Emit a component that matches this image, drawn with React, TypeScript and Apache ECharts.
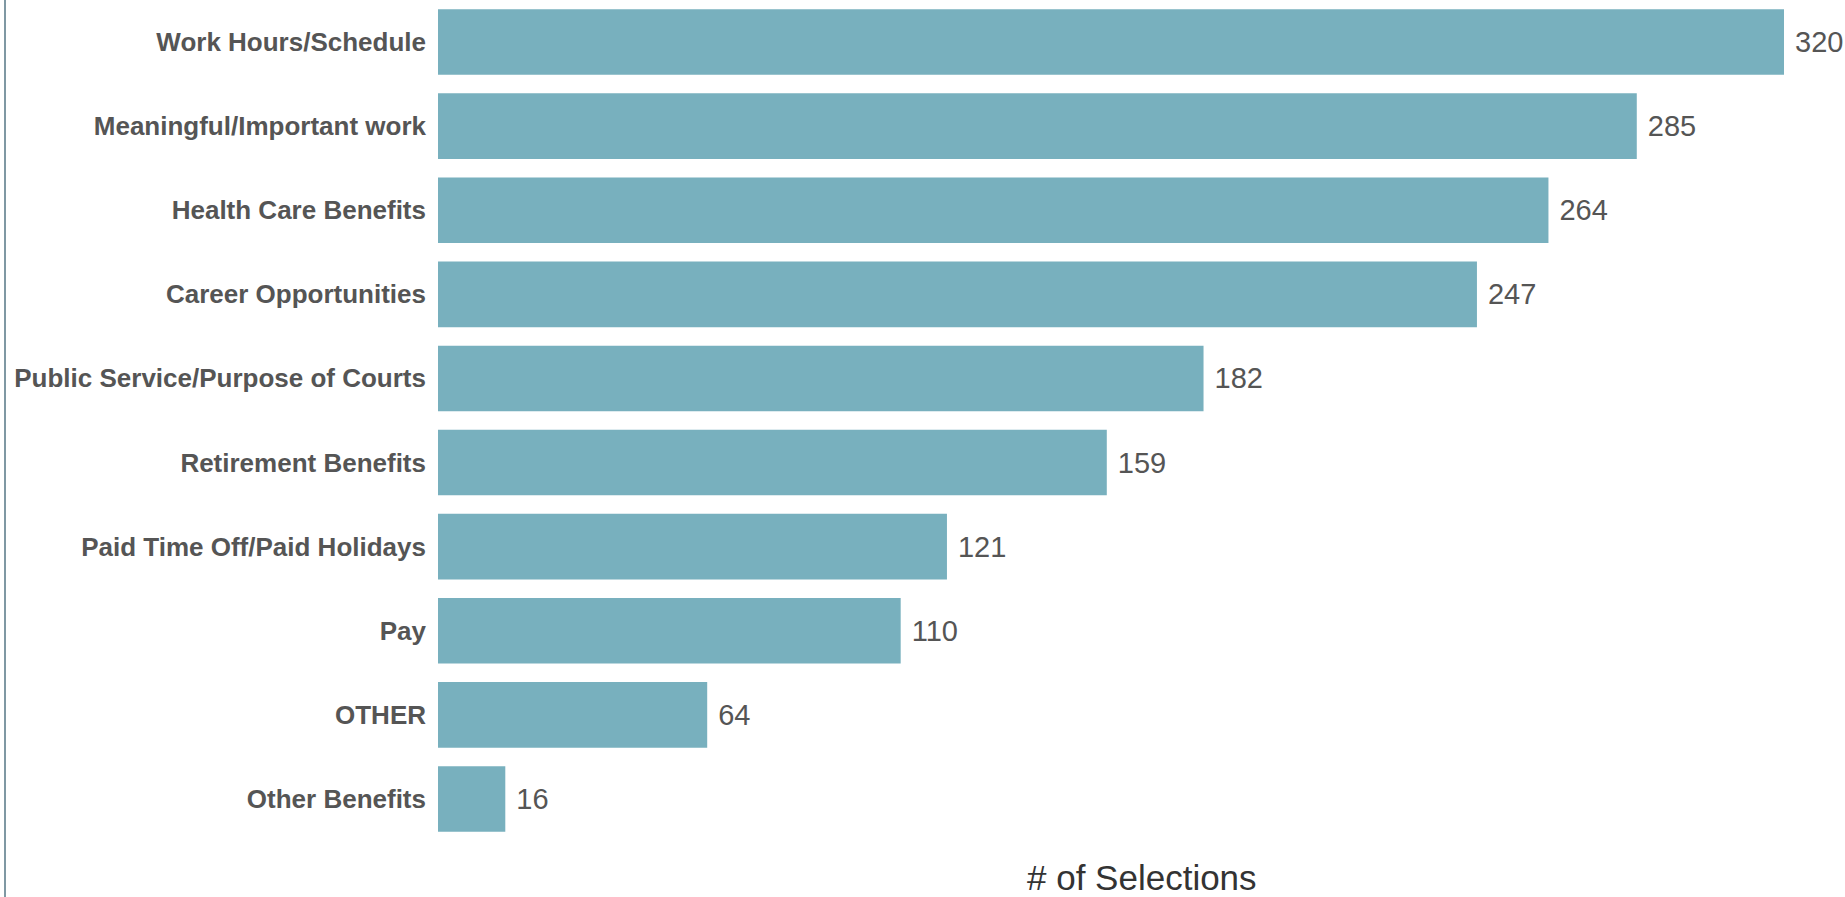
import React, { useEffect, useRef } from "react";
import * as echarts from "echarts";

const categories = [
  "Work Hours/Schedule",
  "Meaningful/Important work",
  "Health Care Benefits",
  "Career Opportunities",
  "Public Service/Purpose of Courts",
  "Retirement Benefits",
  "Paid Time Off/Paid Holidays",
  "Pay",
  "OTHER",
  "Other Benefits",
];
const selections = [320, 285, 264, 247, 182, 159, 121, 110, 64, 16];
const axisTitle = "# of Selections";

export default function App() {
  const ref = useRef<HTMLDivElement>(null);
  useEffect(() => {
    document.body.style.margin = "0";
    const chart = echarts.init(ref.current!, null, { renderer: "svg" });
    chart.setOption({
      animation: false,
      backgroundColor: "#ffffff",
      grid: { left: 438, top: 0, width: 1346, height: 841, containLabel: false },
      xAxis: {
        type: "value",
        min: 0,
        max: 320,
        show: false,
      },
      yAxis: {
        type: "category",
        data: categories,
        inverse: true,
        axisLine: { show: false },
        axisTick: { show: false },
        splitLine: { show: false },
        axisLabel: {
          margin: 12,
          fontFamily: "Liberation Sans, Arial, sans-serif",
          fontWeight: "bold",
          fontSize: 26,
          color: "#555555",
        },
      },
      series: [
        {
          type: "bar",
          data: selections,
          barCategoryGap: "22%",
          itemStyle: { color: "#78B0BE" },
          label: {
            show: true,
            position: "right",
            distance: 11,
            fontFamily: "Liberation Sans Narrow, Liberation Sans, Arial, sans-serif",
            fontSize: 29,
            color: "#555555",
          },
        },
      ],
      graphic: [
        {
          type: "line",
          shape: { x1: 5, y1: 0, x2: 5, y2: 897 },
          style: { stroke: "#7F98A3", lineWidth: 2 },
        },
        {
          type: "text",
          left: 1027,
          top: 859,
          style: {
            text: axisTitle,
            fontFamily: "Liberation Sans, Arial, sans-serif",
            fontSize: 35,
            lineHeight: 36,
            fill: "#333333",
          },
        },
      ],
    });
    return () => chart.dispose();
  }, []);
  return <div ref={ref} style={{ width: 1845, height: 897 }} />;
}
